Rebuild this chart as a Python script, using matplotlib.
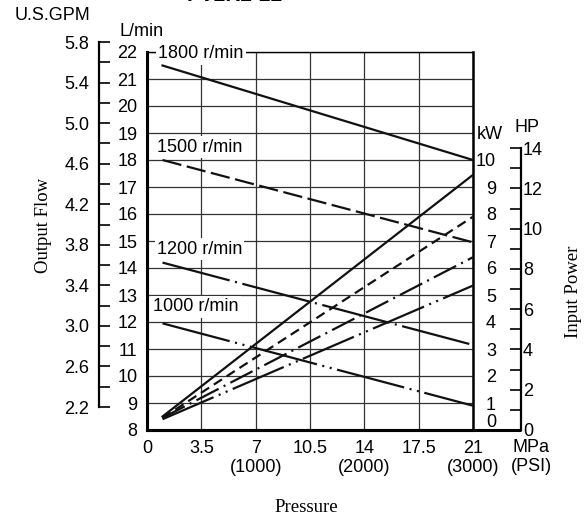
import matplotlib
matplotlib.use('Agg')
import matplotlib.pyplot as plt
import matplotlib.transforms as mtransforms
import numpy as np

plt.rcParams['font.family'] = ['Liberation Sans', 'DejaVu Sans']
plt.rcParams['lines.scale_dashes'] = False

# data
rpm_labels = ['1800 r/min', '1500 r/min', '1200 r/min', '1000 r/min']
pressure_ends = [1, 21]                      # MPa
flow_low_p = [21.5, 18.0, 14.2, 11.95]       # L/min at 1 MPa
flow_high_p = [18.0, 14.95, 11.15, 8.9]      # L/min at 21 MPa
power_low_p = [0.5, 0.45, 0.45, 0.4]         # kW at 1 MPa
power_high_p = [9.45, 7.9, 6.4, 5.35]        # kW at 21 MPa

x_ticks = [0, 3.5, 7, 10.5, 14, 17.5, 21]
x_labels = ['0', '3.5', '7\n(1000)', '10.5', '14\n(2000)', '17.5', '21\n(3000)']
lmin_ticks = list(range(8, 23))
kw_ticks = list(range(0, 11))
hp_ticks = list(range(0, 15, 2))
gpm_ticks = [2.2, 2.6, 3.0, 3.4, 3.8, 4.2, 4.6, 5.0, 5.4, 5.8]

flow_dashes = [None, (14, 4), (50, 4, 1.5, 4), (50, 4, 1.5, 4, 1.5, 4)]
power_dashes = [None, (7, 4), (18, 4, 1.5, 4), (40, 4, 1.5, 4, 1.5, 4)]
label_pos = [(0.71, 21.93), (0.64, 18.48), (0.64, 14.7), (0.39, 12.56)]

W, H = 587, 517
FS = 13
SERIF = ['Liberation Serif', 'DejaVu Serif']


def fx(px):
    return px / W


def fy(py):
    return 1 - py / H


fig = plt.figure(figsize=(W / 100, H / 100), dpi=100)

# main plot area (pixels): left 147, right 473, top 52, bottom 430
L, R, T, B = 147, 473, 52, 430
ax = fig.add_axes([fx(L), fy(B), fx(R - L), (B - T) / H])
ax.set_xlim(0, 21)
ax.set_ylim(8, 22)
ax.set_xticks(x_ticks)
ax.set_xticklabels(x_labels, fontsize=FS, linespacing=1.15)
ax.set_yticks(lmin_ticks)
ax.set_yticklabels([str(v) for v in lmin_ticks], fontsize=FS)
ax.tick_params(axis='x', length=0, pad=7)
ax.tick_params(axis='y', length=0, pad=7)
ax.grid(True, color='#333333', lw=0.9)
ax.set_axisbelow(True)
ax.spines['left'].set_linewidth(2.2)
ax.spines['bottom'].set_linewidth(2.2)
ax.spines['right'].set_linewidth(1.8)
ax.spines['top'].set_linewidth(1.0)

for i in range(4):
    ln, = ax.plot(pressure_ends, [flow_low_p[i], flow_high_p[i]],
                  color='#111111', lw=1.6, zorder=4)
    if flow_dashes[i]:
        ln.set_dashes(flow_dashes[i])
    ax.text(label_pos[i][0], label_pos[i][1], rpm_labels[i], fontsize=FS,
            va='center', ha='left', zorder=3,
            bbox=dict(facecolor='white', edgecolor='none', pad=1.5))

# kW scale (right side of main plot)
ax_kw = ax.twinx()
ax_kw.set_ylim(0, 14)
for s in ax_kw.spines.values():
    s.set_visible(False)
ax_kw.set_yticks(kw_ticks)
ax_kw.set_yticklabels([''] + [str(v) for v in kw_ticks[1:]], fontsize=FS)
ax_kw.tick_params(axis='y', length=0, pad=16.5)
for lab in ax_kw.get_yticklabels():
    lab.set_horizontalalignment('right')
blend = mtransforms.blended_transform_factory(ax.transAxes, ax_kw.transData)
ax_kw.text((496 - L) / (R - L), 0.27, '0', transform=blend, fontsize=FS,
           ha='right', va='center')

for i in range(4):
    ln, = ax_kw.plot(pressure_ends, [power_low_p[i], power_high_p[i]],
                     color='#111111', lw=1.6, zorder=4)
    if power_dashes[i]:
        ln.set_dashes(power_dashes[i])

# HP scale, outboard on the right
ax_hp = ax.twinx()
ax_hp.set_ylim(0, 14 / 0.7457)
for k in ['left', 'top', 'bottom']:
    ax_hp.spines[k].set_visible(False)
ax_hp.spines['right'].set_position(('outward', (521 - R) * 0.72))
ax_hp.spines['right'].set_bounds(0, 14)
ax_hp.spines['right'].set_linewidth(1.6)
ax_hp.set_yticks(hp_ticks)
ax_hp.set_yticks(range(1, 14, 2), minor=True)
ax_hp.set_yticklabels([str(v) for v in hp_ticks], fontsize=FS)
ax_hp.tick_params(axis='y', which='both', direction='in', length=8,
                  width=1.2, pad=1.5)

# bottom line runs on under the kW labels to the HP scale
ax.plot([0, (521 - L) / (R - L)], [0, 0], transform=ax.transAxes,
        clip_on=False, color='black', lw=2.2, solid_capstyle='butt')

# U.S.GPM scale, outboard on the left
gt, gb = 42, 407           # pixel rows of 5.8 and 2.2 gpm
top_px, bot_px = 30, 430
ppg = (gb - gt) / (5.8 - 2.2)
ax_g = fig.add_axes([fx(99), fy(bot_px), 0.01, (bot_px - top_px) / H])
ax_g.set_ylim(2.2 - (bot_px - gb) / ppg, 5.8 + (gt - top_px) / ppg)
ax_g.patch.set_visible(False)
for k in ['right', 'top', 'bottom']:
    ax_g.spines[k].set_visible(False)
ax_g.spines['left'].set_bounds(2.2, 5.8)
ax_g.spines['left'].set_linewidth(1.6)
ax_g.set_xticks([])
ax_g.set_yticks(gpm_ticks)
ax_g.set_yticks(np.array(gpm_ticks[:-1]) + 0.2, minor=True)
ax_g.set_yticklabels([f'{v:.1f}' for v in gpm_ticks], fontsize=FS)
ax_g.tick_params(axis='y', which='both', direction='in', length=8,
                 width=1.2, pad=7)

# axis titles and unit labels
fig.text(fx(53), fy(16), 'U.S.GPM', fontsize=FS, ha='center', va='center')
fig.text(fx(142), fy(31), 'L/min', fontsize=FS, ha='center', va='center')
fig.text(fx(490), fy(135), 'kW', fontsize=FS, ha='center', va='center')
fig.text(fx(527), fy(128), 'HP', fontsize=FS, ha='center', va='center')
fig.text(fx(531), fy(439), 'MPa\n(PSI)', fontsize=FS, ha='center', va='top',
         linespacing=1.15)
fig.text(fx(43), fy(225), 'Output Flow', fontsize=13.5, family=SERIF,
         rotation=90, ha='center', va='center')
fig.text(fx(573), fy(292), 'Input Power', fontsize=13.5, family=SERIF,
         rotation=90, ha='center', va='center')
fig.text(fx(306), fy(507), 'Pressure', fontsize=13.5, family=SERIF,
         ha='center', va='center')
fig.text(fx(235), fy(5), 'PV2R2-22', fontsize=15, fontweight='bold',
         ha='center', va='bottom')

fig.savefig('out.png', dpi=100)
